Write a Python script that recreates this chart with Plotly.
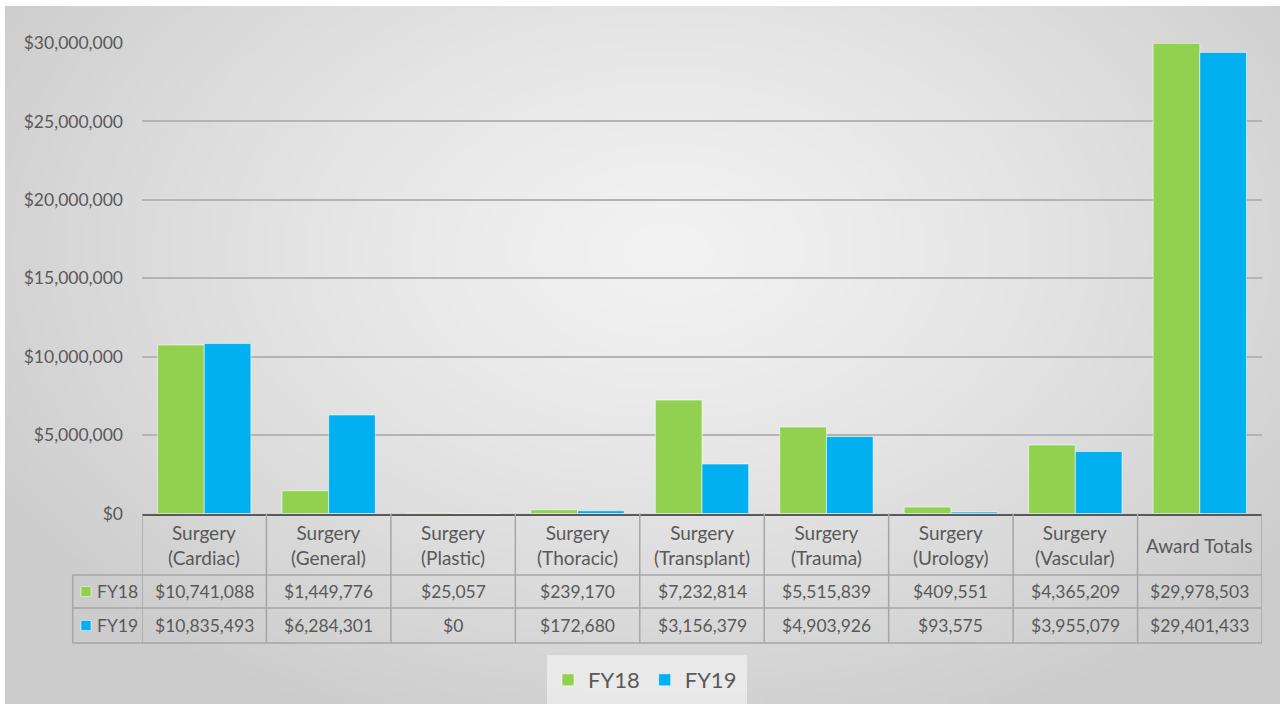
import base64
import struct
import zlib

import numpy as np
import plotly.graph_objects as go

# ---------------- data ----------------
categories = [
    "Surgery (Cardiac)", "Surgery (General)", "Surgery (Plastic)", "Surgery (Thoracic)",
    "Surgery (Transplant)", "Surgery (Trauma)", "Surgery (Urology)", "Surgery (Vascular)",
    "Award Totals",
]
fy18 = [10741088, 1449776, 25057, 239170, 7232814, 5515839, 409551, 4365209, 29978503]
fy19 = [10835493, 6284301, 0, 172680, 3156379, 4903926, 93575, 3955079, 29401433]
series_names = ["FY18", "FY19"]
y_ticks = [0, 5000000, 10000000, 15000000, 20000000, 25000000, 30000000]

# ---------------- styling ----------------
W, H = 1280, 704
GREEN = "#92D050"
BLUE = "#00B0F0"
TXT = "#595959"
GRID = "#b4b4b4"
TLINE = "#a6a6a6"
FONT = "Lato, 'Open Sans', sans-serif"


def px(x):
    return x / W


def py(y):
    return 1 - y / H


# radial-gradient background as a small PNG
def gradient_png(w=256, h=140):
    xs = np.linspace(0, 1, w)
    ys = np.linspace(0, 1, h)
    X, Y = np.meshgrid(xs, ys)
    d = np.sqrt(((X - 0.52) / 0.62) ** 2 + ((Y - 0.35) / 0.75) ** 2)
    d = np.clip(d, 0, 1)
    c = 242 - (242 - 204) * d ** 1.3
    img = c.astype(np.uint8)
    raw = b"".join(b"\x00" + img[r].tobytes() for r in range(h))

    def chunk(tag, data):
        body = tag + data
        return struct.pack(">I", len(data)) + body + struct.pack(">I", zlib.crc32(body) & 0xFFFFFFFF)

    png = b"\x89PNG\r\n\x1a\n"
    png += chunk(b"IHDR", struct.pack(">IIBBBBB", w, h, 8, 0, 0, 0, 0))
    png += chunk(b"IDAT", zlib.compress(raw, 9))
    png += chunk(b"IEND", b"")
    return "data:image/png;base64," + base64.b64encode(png).decode()


fig = go.Figure()
for name, vals, col in zip(series_names, [fy18, fy19], [GREEN, BLUE]):
    fig.add_trace(go.Bar(
        x=categories, y=vals, name=name,
        marker=dict(color=col, line=dict(color="rgba(255,255,255,0.55)", width=1)),
        hoverinfo="x+y",
    ))

# ---- table geometry (pixels) ----
t_left, ax_left, ax_right = 72.7, 142, 1262
y_base, y_hdr, y_r1, y_r2 = 513.5, 575, 608, 643
y_top = 43

shapes = []
line = dict(color=TLINE, width=1.5)
# horizontal table lines
for yy in [y_hdr, y_r1, y_r2]:
    shapes.append(dict(type="line", xref="paper", yref="paper",
                       x0=px(t_left), x1=px(ax_right), y0=py(yy), y1=py(yy), line=line))
# left key column verticals
shapes.append(dict(type="line", xref="paper", yref="paper",
                   x0=px(t_left), x1=px(t_left), y0=py(y_hdr), y1=py(y_r2), line=line))
# category column verticals (through the x scale)
for i in range(len(categories) + 1):
    shapes.append(dict(type="line", xref="x", yref="paper",
                       x0=i - 0.5, x1=i - 0.5, y0=py(y_base), y1=py(y_r2), line=line))
# key squares in table
for yy, col in [((y_hdr + y_r1) / 2, GREEN), ((y_r1 + y_r2) / 2, BLUE)]:
    shapes.append(dict(type="rect", xref="paper", yref="paper",
                       x0=px(81), x1=px(91), y0=py(yy - 5), y1=py(yy + 5),
                       fillcolor=col, line=dict(color="rgba(255,255,255,0.6)", width=0.8)))
# legend backdrop
shapes.append(dict(type="rect", xref="paper", yref="paper", layer="below",
                   x0=px(547), x1=px(747), y0=py(704), y1=py(655),
                   fillcolor="rgba(236,236,236,0.85)", line=dict(width=0)))

annotations = []
for cat in categories:
    label = cat.replace(" (", "<br>(")
    annotations.append(dict(x=cat, xref="x", y=py(545), yref="paper", text=label,
                            showarrow=False, xanchor="center", yanchor="middle",
                            font=dict(family=FONT, size=19, color=TXT)))
for row_y, name, vals in [((y_hdr + y_r1) / 2, series_names[0], fy18),
                          ((y_r1 + y_r2) / 2, series_names[1], fy19)]:
    annotations.append(dict(x=px(95), xref="paper", y=py(row_y), yref="paper", text=name,
                            showarrow=False, xanchor="left", yanchor="middle",
                            font=dict(family=FONT, size=17.5, color=TXT)))
    for cat, v in zip(categories, vals):
        annotations.append(dict(x=cat, xref="x", y=py(row_y), yref="paper",
                                text="${:,}".format(v), showarrow=False,
                                xanchor="center", yanchor="middle",
                                font=dict(family=FONT, size=17.5, color=TXT)))

fig.update_layout(
    width=W, height=H,
    margin=dict(l=0, r=0, t=0, b=0, pad=0, autoexpand=False),
    paper_bgcolor="white",
    plot_bgcolor="rgba(0,0,0,0)",
    font=dict(family=FONT, color=TXT),
    barmode="group", bargap=0.25, bargroupgap=0.0,
    showlegend=True,
    legend=dict(orientation="h", x=px(645), xanchor="center", y=py(680), yanchor="middle",
                font=dict(family=FONT, size=22, color=TXT), bgcolor="rgba(0,0,0,0)",
                itemwidth=30, traceorder="normal"),
    images=[dict(source=gradient_png(), xref="paper", yref="paper",
                 x=px(5), y=py(6), sizex=1 - px(5), sizey=py(6),
                 xanchor="left", yanchor="top", sizing="stretch", layer="below")],
    shapes=shapes,
    annotations=annotations,
    xaxis=dict(domain=[px(ax_left), px(ax_right)], range=[-0.5, len(categories) - 0.5],
               showticklabels=False, ticks="", showgrid=False, zeroline=False,
               showline=True, linecolor="#595959", linewidth=1.5, fixedrange=True,
               automargin=False),
    yaxis=dict(domain=[py(y_base), py(y_top)], range=[0, 30000000],
               tickvals=y_ticks, ticktext=["${:,}".format(t) for t in y_ticks],
               tickfont=dict(family=FONT, size=17.5, color=TXT), ticks="",
               ticklabelstandoff=18,
               showgrid=True, gridcolor=GRID, gridwidth=1.5,
               zeroline=False, showline=False, fixedrange=True, automargin=False),
)

fig.write_html(
    "out.html",
    config={"responsive": False, "displayModeBar": False},
    post_script=(
        "document.body.style.margin='0';"
        "document.documentElement.style.overflow='hidden';"
        "var g=document.querySelector('.plotly-graph-div');"
        "g.style.position='fixed';g.style.left='0px';g.style.top='0px';"
    ),
)
